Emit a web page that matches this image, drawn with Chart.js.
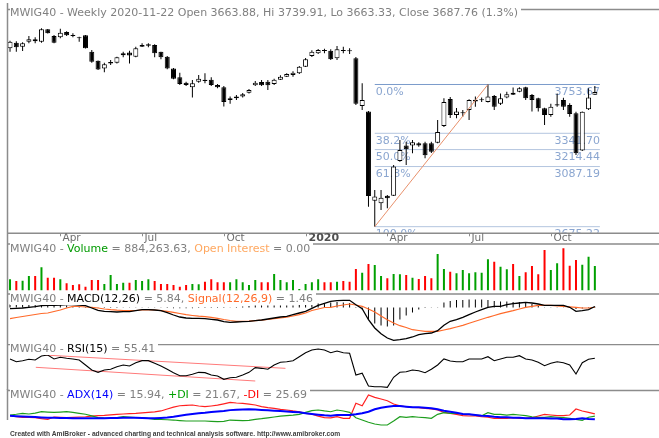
<!DOCTYPE html>
<html>
<head>
<meta charset="utf-8">
<script src="https://cdn.jsdelivr.net/npm/chart.js@4.4.1/dist/chart.umd.min.js"></script>
<style>
  html, body { margin: 0; padding: 0; background: #fff; }
  #wrap { position: relative; width: 659px; height: 438px; overflow: hidden; background: #fff; }
  .pane { position: absolute; left: 0; }
  .ttl { position: absolute; left: 10px; font: 11px "DejaVu Sans"; line-height: 12px; color: #808080;
         background: #fff; white-space: nowrap; padding-right: 3px; }
  #foot { position: absolute; left: 10px; top: 430px; font: bold 6.7px "Liberation Sans"; color: #404040; white-space: nowrap; }
</style>
</head>
<body>
<div id="wrap">
  <canvas class="pane" id="cPrice" width="659" height="243" style="top:0px"></canvas>
  <canvas class="pane" id="cVol" width="659" height="50" style="top:243px"></canvas>
  <canvas class="pane" id="cMacd" width="659" height="51" style="top:293px"></canvas>
  <canvas class="pane" id="cRsi" width="659" height="46" style="top:344px"></canvas>
  <canvas class="pane" id="cAdx" width="659" height="40" style="top:389px"></canvas>

  <div class="ttl" style="top:6.5px">MWIG40 - Weekly 2020-11-22 Open 3663.88, Hi 3739.91, Lo 3663.33, Close 3687.76 (1.3%)</div>
  <div class="ttl" style="top:243.2px">MWIG40 - <span style="color:#009a00">Volume</span> = 884,263.63, <span style="color:#ffa860">Open Interest</span> = 0.00</div>
  <div class="ttl" style="top:292.9px">MWIG40 - <span style="color:#000">MACD(12,26)</span> = 5.84, <span style="color:#ff6a2a">Signal(12,26,9)</span> = 1.46</div>
  <div class="ttl" style="top:343.2px">MWIG40 - <span style="color:#000">RSI(15)</span> = 55.41</div>
  <div class="ttl" style="top:389.2px">MWIG40 - <span style="color:#0000ff">ADX(14)</span> = 15.94, <span style="color:#00a000">+DI</span> = 21.67, <span style="color:#ff0000">-DI</span> = 25.69</div>
  <div id="foot">Created with AmiBroker - advanced charting and technical analysis software. http://www.amibroker.com</div>
</div>

<script>
// weekly bars, Feb 2019 .. 2020-11-22
const opens = [4092,4147,4107,4156,4180,4156,4281,4213,4200,4253,
  4223,4200,4220,4059,3972,3899,3946,3954,4024,4050,
  4011,4107,4117,4124,4059,4011,3899,3818,3770,3729,
  3779,3797,3797,3749,3729,3618,3633,3647,3681,3747,
  3776,3779,3758,3797,3824,3840,3855,3916,4017,4044,
  4072,4069,3995,4072,4069,3995,3566,3519,2846,2828,
  2880,2880,3128,3245,3245,3263,3263,3263,3268,3400,
  3627,3491,3505,3533,3605,3615,3601,3652,3586,3640,
  3681,3689,3729,3661,3633,3547,3491,3570,3618,3575,
  3505,3207,3539,3663.88];
const highs = [4165,4160,4151,4213,4200,4291,4284,4223,4287,4260,
  4240,4206,4223,4075,3975,3954,3979,4011,4059,4069,
  4107,4141,4141,4131,4059,4017,3904,3860,3779,3794,
  3840,3855,3818,3758,3740,3647,3661,3678,3714,3785,
  3794,3794,3806,3837,3856,3875,3922,3998,4072,4085,
  4088,4082,4114,4107,4092,4008,3764,3525,2920,2920,
  2885,3099,3289,3276,3289,3271,3276,3276,3449,3633,
  3644,3550,3533,3625,3647,3640,3753.67,3661,3675,3689,
  3726,3729,3734,3670,3638,3552,3586,3675,3638,3590,
  3517,3519,3720,3739.91];
const lows = [4059,4059,4066,4141,4141,4147,4238,4141,4190,4213,
  4200,4156,4090,3954,3886,3865,3932,3946,4005,3946,
  4005,4104,4101,4005,3986,3893,3800,3749,3740,3640,
  3770,3764,3740,3720,3563,3586,3618,3640,3675,3740,
  3740,3705,3749,3794,3821,3824,3848,3913,4008,4037,
  4044,3979,3979,4044,4037,3575,3533,2806,2675.22,2784,
  2795,2878,3123,3099,3186,3237,3148,3188,3263,3392,
  3466,3463,3477,3449,3560,3601,3596,3533,3575,3633,
  3661,3684,3618,3519,3519,3408,3477,3560,3533,3477,
  3173,3204,3533,3663.33];
const closes = [4156,4101,4141,4180,4160,4281,4240,4147,4246,4220,
  4213,4190,4092,3963,3890,3938,3960,4005,4044,4021,
  4092,4124,4131,4044,4005,3899,3806,3758,3749,3764,
  3806,3784,3749,3729,3601,3633,3647,3667,3705,3770,
  3747,3747,3797,3824,3848,3860,3916,3986,4059,4075,
  4065,3986,4082,4066,4062,3586,3618,2878,2874,2866,
  2862,3087,3212,3217,3271,3245,3171,3198,3353,3601,
  3491,3519,3512,3618,3620,3622,3647,3560,3633,3667,
  3664,3720,3633,3618,3547,3491,3560,3582,3560,3499,
  3186,3517,3640,3687.76];
const volumes = [404000,343000,354000,523000,523000,837000,462000,462000,404000,260000,
  199000,224000,137000,379000,379000,235000,559000,235000,282000,282000,
  379000,343000,404000,343000,235000,235000,199000,137000,199000,235000,
  224000,318000,404000,296000,296000,296000,404000,296000,199000,379000,
  296000,296000,596000,379000,296000,379000,54000,235000,296000,404000,
  296000,296000,318000,343000,318000,776000,642000,956000,920000,523000,
  440000,596000,585000,559000,462000,415000,523000,440000,1317000,776000,
  679000,621000,740000,621000,657000,642000,1126000,1039000,859000,765000,
  956000,523000,657000,884000,585000,1462000,740000,982000,1523000,895000,
  1101000,931000,1220000,884263.63];
const macdLine = [-7.2,-4.8,-3,1.2,4.8,10.8,13.2,13.2,15,16.8,
  16.8,15,10.8,-3,-16.8,-22.8,-25.2,-27,-25.2,-25.2,
  -19.2,-13.2,-13.2,-15,-19.2,-31.2,-45,-57,-63,-64.8,
  -64.8,-67.2,-70.8,-75,-85.2,-88.8,-87,-85.2,-82.8,-79.2,
  -75,-69,-63,-57,-52.8,-43.2,-33,-22.8,-4.8,13.2,
  25.2,37.2,40.8,43.2,43.2,16.8,-7.2,-73.2,-123,-157.2,
  -183,-196.8,-193.2,-187.2,-177,-163.2,-157.2,-153,-139.2,-106.8,
  -82.8,-73.2,-58.8,-43.2,-27,-13.2,1.2,7.2,7.2,16.8,
  22.8,27,31.2,27,21,13.2,13.2,13.2,13.2,1.2,
  -22.8,-19.2,-13.2,5.84];
const signalLine = [-67.2,-60,-54,-48,-42,-36,-33,-24,-15,-3,
  7.2,6,3,1.2,-3,-9,-13.2,-16.2,-18,-19.2,
  -18,-15,-13.2,-15,-19.2,-22.8,-28.8,-36,-43.2,-48,
  -52.2,-55.2,-58.8,-64.8,-72,-78,-82.8,-82.8,-82.2,-79.2,
  -76.2,-72,-67.2,-63,-58.2,-51,-43.2,-33,-18,-9,
  0,1.2,9,15,21,15,7.2,-9,-27,-51,
  -73.2,-93,-109.2,-120,-133.2,-138,-142.8,-142.8,-142.8,-135,
  -127.2,-117,-106.8,-94.8,-82.8,-70.8,-58.8,-48,-37.2,-28.2,
  -19.2,-9,1.2,7.2,13.2,13.2,13.2,10.2,7.2,4.2,
  1.2,-3,-3,1.46];
const macdHist = [18,18,18,18,18,18,18,15,15,12,
  9,6,3,1,-2,-3,-3,-3,-2,-2,
  -1,1,1,-1,-2,-3,-4,-5,-5,-4,
  -3,-3,-3,-3,-3,-2,3,6,9,12,
  12,12,12,12,12,12,15,15,18,24,
  27,30,33,30,27,3,-12,-72,-96,-108,
  -114,-108,-72,-48,-30,-12,-3,-2,2,30,
  39,45,45,48,48,48,45,39,36,36,
  33,33,27,21,15,2,2,2,2,2,
  -9,-6,-3,4.38];
const rsiLine = [54.6,51.4,52.6,54.2,53.4,58.1,59.3,54.6,56.6,55.4,
  54.6,53.4,47.5,41.6,38.9,41.6,42.5,45.5,47.5,46.4,
  50.2,52.6,52.6,49.5,46.4,42.5,38.5,34.9,34.9,36.6,
  38.9,38.5,35.8,34.6,30.7,32.6,33.1,35.8,38.9,44.4,
  43.6,42.5,47.5,50.7,51.4,52.6,57.3,62.0,65.2,66.4,
  65.2,62.0,64.0,62.0,61.3,35.8,37.8,22.8,22.0,22.0,
  21.3,33.1,38.9,39.6,41.6,40.8,38.5,42.5,47.5,54.6,
  52.2,51.4,51.4,54.6,54.6,54.6,57.3,52.6,54.6,56.6,
  56.6,58.5,54.6,53.4,50.7,46.7,49.5,51.4,50.2,47.5,
  36.9,50.2,54.2,55.41];
// hand drawn RSI trend lines (bar index, RSI value)
const rsiUpperTrend = [{ x: 5.3, y: 59.3 }, { x: 43.8, y: 43.6 }];
const rsiLowerTrend = [{ x: 4.1, y: 44.8 }, { x: 39.0, y: 28.7 }];
const adxLine = [22.4,21.5,20.8,20.3,19.8,19.3,18.8,18.5,18.2,18.0,
  17.7,17.6,17.6,17.6,17.6,17.8,18.0,18.2,18.5,18.7,
  18.5,18.0,17.6,17.8,18.3,19.0,20.5,22.4,24.0,25.5,
  26.7,27.7,29.0,30.0,31.0,32.5,33.3,33.8,34.0,33.5,
  32.9,32.2,31.5,30.9,30.2,29.3,28.5,27.0,25.5,24.2,
  23.0,22.4,23.6,23.6,23.6,24.9,26.7,29.6,34.0,36.9,
  38.7,40.0,40.0,38.7,37.6,37.6,36.9,35.8,34.0,31.5,
  29.6,27.8,25.5,24.9,23.6,22.4,21.8,20.5,19.5,19.5,
  18.7,18.7,17.6,17.6,17.6,17.6,17.2,17.2,15.8,15.8,
  16.2,17.6,16.4,15.94];
const plusDI = [23.6,25.0,26.7,25.5,27.0,29.6,29.0,28.5,29.0,29.6,
  28.5,26.7,25.0,22.0,19.0,18.0,17.6,19.0,20.5,20.0,
  19.0,18.7,17.5,15.8,15.5,15.0,14.5,13.5,12.7,12.7,
  12.7,12.7,12.0,11.5,12.0,14.5,14.0,13.3,14.0,15.8,
  17.0,18.5,20.0,21.5,22.4,23.5,24.9,28.5,31.5,32.7,
  31.0,29.6,32.7,30.9,28.5,18.7,14.5,10.4,7.3,5.5,
  5.5,12.7,20.5,19.5,20.5,19.5,18.7,17.6,24.9,27.8,
  26.7,26.7,25.5,24.9,23.6,22.4,27.8,24.9,24.9,23.6,
  24.9,23.6,22.4,20.5,19.5,19.5,20.5,19.5,18.7,17.6,
  15.8,14.0,19.5,21.67];
const minusDI = [22.4,20.5,19.5,19.5,19.0,17.0,15.8,20.0,19.5,18.7,
  19.5,20.0,20.5,21.5,22.4,23.0,24.0,24.9,25.5,26.2,
  26.7,27.5,28.5,29.3,31.0,34.5,38.0,40.5,41.2,41.8,
  40.0,38.7,40.0,41.5,44.0,46.5,45.5,44.9,43.5,41.8,
  39.0,37.0,35.8,34.0,32.7,31.0,29.6,26.5,25.0,21.5,
  19.0,18.5,20.5,17.6,17.6,44.9,40.5,60.0,55.8,52.7,
  49.6,43.6,40.5,38.7,37.6,36.9,35.8,34.5,32.7,28.5,
  26.7,24.9,22.4,21.8,21.8,20.5,19.5,17.6,17.6,17.6,
  18.7,17.6,17.6,18.7,21.8,24.9,23.6,22.4,22.4,23.6,
  34.5,30.9,28.5,25.69];
const tickIdx = [8, 21, 34, 47, 60, 73, 86];
const tickLabels = ['Apr', 'Jul', 'Oct', '2020', 'Apr', 'Jul', 'Oct'];
const fibRatios = [0, 0.382, 0.5, 0.618, 1];

// ---- derived ----
const idx = opens.map((_, i) => i);
const X_MIN = -0.48, X_MAX = 103.2;
const lowIdx = lows.indexOf(Math.min(...lows));
let highIdx = lowIdx;
for (let i = lowIdx; i < highs.length; i++) if (highs[i] > highs[highIdx]) highIdx = i;
const swingLow = lows[lowIdx], swingHigh = highs[highIdx];
const fibLevels = fibRatios.map(r => swingHigh - r * (swingHigh - swingLow));
const fibStartIdx = lowIdx;
const fibEndIdx = idx.length - 1 + 0.8;
const isUp = idx.map(i => closes[i] >= opens[i]);

const GRID = '#8c8c8c';

// pane frame: top border + left axis line
const paneFrame = {
  id: 'paneFrame',
  afterDraw(chart, args, opts) {
    const { ctx, chartArea } = chart;
    ctx.save();
    ctx.strokeStyle = GRID;
    ctx.lineWidth = 1.5;
    ctx.beginPath();
    ctx.moveTo(chartArea.left, chartArea.top + 0.5);
    ctx.lineTo(chartArea.right, chartArea.top + 0.5);
    ctx.moveTo(chartArea.left + 0.5, opts.from || 0);
    ctx.lineTo(chartArea.left + 0.5, opts.to || chart.height);
    ctx.stroke();
    ctx.restore();
  }
};

// month labels under the price pane
const monthAxis = {
  id: 'monthAxis',
  afterDraw(chart) {
    const { ctx, chartArea, scales: { x } } = chart;
    const y0 = chartArea.bottom + 0.6;
    ctx.save();
    ctx.strokeStyle = GRID;
    ctx.lineWidth = 1.5;
    ctx.beginPath();
    ctx.moveTo(chartArea.left, y0);
    ctx.lineTo(chartArea.right, y0);
    ctx.stroke();
    ctx.lineWidth = 1;
    tickIdx.forEach((t, k) => {
      const px = Math.round(x.getPixelForValue(t)) + 0.5;
      ctx.beginPath();
      ctx.moveTo(px, y0);
      ctx.lineTo(px, y0 + 3);
      ctx.stroke();
      const bold = tickLabels[k] === '2020';
      ctx.font = (bold ? 'bold 11px' : '10.5px') + ' "DejaVu Sans"';
      ctx.fillStyle = bold ? '#505050' : '#707070';
      ctx.textBaseline = 'alphabetic';
      ctx.textAlign = 'left';
      ctx.fillText(tickLabels[k], px + 2, y0 + 7.5);
    });
    ctx.restore();
  }
};

// fibonacci level texts, under the candles
const fibLabels = {
  id: 'fibLabels',
  beforeDatasetsDraw(chart) {
    const { ctx, chartArea, scales: { x, y } } = chart;
    ctx.save();
    ctx.beginPath();
    ctx.rect(chartArea.left, chartArea.top, chartArea.width, chartArea.height);
    ctx.clip();
    ctx.font = '11px "DejaVu Sans"';
    ctx.fillStyle = '#8ba6d0';
    ctx.textBaseline = 'top';
    const x0 = x.getPixelForValue(fibStartIdx);
    const x1 = x.getPixelForValue(fibEndIdx);
    fibRatios.forEach((r, k) => {
      const py = y.getPixelForValue(fibLevels[k]);
      ctx.textAlign = 'left';
      ctx.fillText((r * 100).toFixed(1) + '%', x0 + 1, py + 2);
      ctx.textAlign = 'right';
      ctx.fillText(fibLevels[k].toFixed(2), x1, py + 2);
    });
    ctx.restore();
  }
};

function xScale() {
  return { type: 'linear', min: X_MIN, max: X_MAX, display: false, offset: false };
}

function baseOptions(padding, yScale, frame) {
  return {
    responsive: false,
    animation: false,
    events: [],
    layout: { padding: padding },
    plugins: { legend: { display: false }, tooltip: { enabled: false }, paneFrame: frame || {} },
    scales: { x: xScale(), y: yScale }
  };
}

function lineSet(data, color, width, order) {
  return { type: 'line', data: data, borderColor: color, borderWidth: width, pointRadius: 0,
           tension: 0, fill: false, order: order || 0 };
}

// ---- price pane ----
const priceSets = [
  { type: 'bar', data: idx.map(i => ({ x: i, y: [lows[i], highs[i]] })), backgroundColor: '#000',
    barThickness: 1, grouped: false, inflateAmount: 0, order: 2 },
  { type: 'bar', data: idx.map(i => ({ x: i, y: [opens[i], closes[i]] })),
    backgroundColor: idx.map(i => isUp[i] ? '#fff' : '#000'), borderColor: '#000', borderWidth: 1,
    borderSkipped: false, barThickness: 5, minBarLength: 1, grouped: false, inflateAmount: 0, order: 1 }
];
fibLevels.forEach((lv, k) => {
  priceSets.push(lineSet([{ x: fibStartIdx, y: lv }, { x: fibEndIdx, y: lv }],
    k === 0 ? '#7b9bcb' : '#b3c5df', 1, 3));
});
priceSets.push(lineSet([{ x: lowIdx, y: swingLow }, { x: highIdx, y: swingHigh }], '#e8916c', 1, -1));

new Chart(document.getElementById('cPrice'), {
  type: 'bar',
  data: { datasets: priceSets },
  options: baseOptions({ left: 7, top: 9, bottom: 10.3, right: 0 },
    { type: 'logarithmic', min: 2637.1, max: 4493.2, display: false, bounds: 'data' },
    { from: 3, to: 243 }),
  plugins: [paneFrame, monthAxis, fibLabels]
});

// ---- volume pane ----
new Chart(document.getElementById('cVol'), {
  type: 'bar',
  data: { datasets: [{
    data: idx.map(i => ({ x: i, y: volumes[i] })),
    backgroundColor: idx.map(i => isUp[i] ? '#00a000' : '#ff0000'),
    barThickness: 2, inflateAmount: 0
  }] },
  options: baseOptions({ left: 7, top: 0.5, bottom: 2.5, right: 0 },
    { type: 'linear', min: 0, max: 1696000, display: false }),
  plugins: [paneFrame]
});

// ---- MACD pane ----
new Chart(document.getElementById('cMacd'), {
  type: 'bar',
  data: { datasets: [
    { type: 'bar', data: idx.map(i => ({ x: i, y: macdHist[i] })), backgroundColor: '#000',
      barThickness: 1, inflateAmount: 0, order: 3 },
    lineSet(idx.map(i => ({ x: i, y: signalLine[i] })), '#ff6a2a', 1.2, 2),
    lineSet(idx.map(i => ({ x: i, y: macdLine[i] })), '#000', 1.3, 1)
  ] },
  options: baseOptions({ left: 7, top: 0.5, bottom: 0.5, right: 0 },
    { type: 'linear', min: -216, max: 84, display: false }),
  plugins: [paneFrame]
});

// ---- RSI pane ----
new Chart(document.getElementById('cRsi'), {
  type: 'line',
  data: { datasets: [
    lineSet(rsiUpperTrend, '#ff7a7a', 1, 2),
    lineSet(rsiLowerTrend, '#ff7a7a', 1, 2),
    lineSet(idx.map(i => ({ x: i, y: rsiLine[i] })), '#000', 1.1, 1)
  ] },
  options: baseOptions({ left: 7, top: 0, bottom: 1, right: 0 },
    { type: 'linear', min: 19.3, max: 72.2, display: false }),
  plugins: [paneFrame]
});

// ---- ADX pane ----
new Chart(document.getElementById('cAdx'), {
  type: 'line',
  data: { datasets: [
    lineSet(idx.map(i => ({ x: i, y: minusDI[i] })), '#ff2020', 1.2, 3),
    lineSet(idx.map(i => ({ x: i, y: plusDI[i] })), '#1e9e1e', 1.2, 2),
    lineSet(idx.map(i => ({ x: i, y: adxLine[i] })), '#0000ff', 2, 1)
  ] },
  options: baseOptions({ left: 7, top: 1, bottom: 1, right: 0 },
    { type: 'linear', min: 0, max: 69.1, display: false },
    { from: 0, to: 31 }),
  plugins: [paneFrame]
});
</script>
</body>
</html>
